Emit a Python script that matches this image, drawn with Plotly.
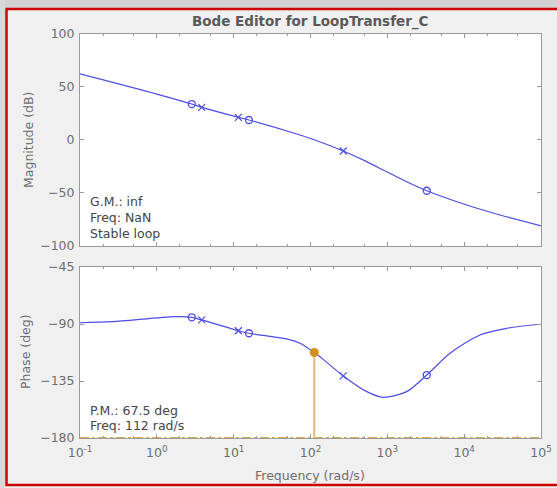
import plotly.graph_objects as go

# ---- data ----
mag_freq = [0.1, 1.0, 2.85, 3.84, 11.5, 15.8, 73, 112, 267, 540, 887, 1786, 3260, 10800, 29300, 100000]
mag_db = [62, 43, 33.6, 30.5, 21.1, 18.6, 4.5, 0, -10.6, -20.6, -28.5, -39.5, -48, -61.4, -70.8, -81]

ph_freq = [0.1, 0.26, 1.72, 2.85, 3.84, 11.5, 15.8, 51.4, 73, 112, 133, 267, 540, 887, 1786, 3260, 6550, 16070, 35800, 100000]
ph_deg = [-89.0, -88.2, -84.2, -84.7, -86.8, -95.3, -97.3, -102.1, -105.2, -112.5, -115.8, -131.0, -143.4, -147.9, -143.4, -130.3, -113.1, -98.7, -93.4, -90.2]

zero_freq = [2.85, 15.8, 3260]
zero_mag = [33.6, 18.6, -48]
zero_ph = [-84.7, -97.3, -130.3]

pole_freq = [3.84, 11.5, 267]
pole_mag = [30.5, 21.1, -10.6]
pole_ph = [-86.8, -95.3, -131.0]

pm_freq = 112
pm_phase = -112.5
ph_floor = -180

x_tickvals = [0.1, 1, 10, 100, 1000, 10000, 100000]
x_ticktext = ["10<sup>-1</sup>", "10<sup>0</sup>", "10<sup>1</sup>", "10<sup>2</sup>",
              "10<sup>3</sup>", "10<sup>4</sup>", "10<sup>5</sup>"]
mag_ticks = [-100, -50, 0, 50, 100]
ph_ticks = [-180, -135, -90, -45]

W, H = 557, 488
BLUE = "#4c4ce6"
ORANGE = "#d4901c"
ORANGE_L = "#e8b86a"
AXC = "#9a9a9a"
TXT = "#6e6e6e"
FONT = "DejaVu Sans"

def px(x):
    return x / W

def py(y):
    return 1 - y / H

fig = go.Figure()

# magnitude
fig.add_trace(go.Scatter(x=mag_freq, y=mag_db, mode="lines", line=dict(color=BLUE, width=1.2, shape="spline", smoothing=0.8),
                         xaxis="x", yaxis="y", hoverinfo="skip"))
fig.add_trace(go.Scatter(x=zero_freq, y=zero_mag, mode="markers",
                         marker=dict(symbol="circle-open", size=7, color=BLUE, line=dict(width=1.3)), xaxis="x", yaxis="y"))
fig.add_trace(go.Scatter(x=pole_freq, y=pole_mag, mode="markers",
                         marker=dict(symbol="x-thin-open", size=7, color=BLUE, line=dict(width=1.2, color=BLUE)), xaxis="x", yaxis="y"))

# phase
fig.add_trace(go.Scatter(x=[0.1, 100000], y=[ph_floor, ph_floor], mode="lines",
                         line=dict(color=ORANGE, width=1.5, dash="dashdot"), xaxis="x2", yaxis="y2"))
fig.add_trace(go.Scatter(x=[pm_freq, pm_freq], y=[ph_floor, pm_phase], mode="lines",
                         line=dict(color=ORANGE_L, width=2), xaxis="x2", yaxis="y2"))
fig.add_trace(go.Scatter(x=ph_freq, y=ph_deg, mode="lines", line=dict(color=BLUE, width=1.2, shape="spline", smoothing=0.8),
                         xaxis="x2", yaxis="y2"))
fig.add_trace(go.Scatter(x=zero_freq, y=zero_ph, mode="markers",
                         marker=dict(symbol="circle-open", size=7, color=BLUE, line=dict(width=1.3)), xaxis="x2", yaxis="y2"))
fig.add_trace(go.Scatter(x=pole_freq, y=pole_ph, mode="markers",
                         marker=dict(symbol="x-thin-open", size=7, color=BLUE, line=dict(width=1.2, color=BLUE)), xaxis="x2", yaxis="y2"))
fig.add_trace(go.Scatter(x=[pm_freq], y=[pm_phase], mode="markers",
                         marker=dict(symbol="circle", size=9, color=ORANGE), xaxis="x2", yaxis="y2"))

xdom = [px(80), px(541)]
common_x = dict(type="log", range=[-1, 5], domain=xdom, showline=True, mirror="ticks", linecolor=AXC, linewidth=1,
                ticks="inside", ticklen=4, tickcolor=AXC, tickvals=x_tickvals, showgrid=False, zeroline=False,
                automargin=False, minor=dict(ticks="inside", ticklen=2, tickcolor=AXC, showgrid=False))
common_y = dict(showline=True, mirror="ticks", linecolor=AXC, linewidth=1, ticks="inside", ticklen=4, tickcolor=AXC,
                showgrid=False, zeroline=False, automargin=False, ticklabelstandoff=2,
                tickfont=dict(family=FONT, size=12.5, color=TXT))

fig.update_layout(
    template="none",
    width=W, height=H, margin=dict(l=0, r=0, t=0, b=0, pad=0, autoexpand=False), showlegend=False,
    paper_bgcolor="#f0f0f0", plot_bgcolor="white", font=dict(family=FONT, size=12, color=TXT),
    xaxis=dict(common_x, anchor="y", showticklabels=False),
    xaxis2=dict(common_x, anchor="y2", ticktext=x_ticktext, ticklabelstandoff=3,
                tickfont=dict(family=FONT, size=12.5, color=TXT), matches="x"),
    yaxis=dict(common_y, domain=[py(246), py(33.5)], range=[-100, 100], tickvals=mag_ticks, anchor="x"),
    yaxis2=dict(common_y, domain=[py(438), py(267)], range=[-180, -45], tickvals=ph_ticks, anchor="x2"),
)

ann = [
    dict(text="<b>Bode Editor for LoopTransfer_C</b>", x=px(310.5), y=py(22), font=dict(size=13.5, color="#5a5a5a")),
    dict(text="Magnitude (dB)", x=px(28), y=py(140), textangle=-90, font=dict(size=12.5, color=TXT)),
    dict(text="Phase (deg)", x=px(25), y=py(352), textangle=-90, font=dict(size=12.5, color=TXT)),
    dict(text="Frequency (rad/s)", x=px(310.5), y=py(475), font=dict(size=12.5, color=TXT)),
]
for a in ann:
    a.update(xref="paper", yref="paper", showarrow=False, xanchor="center", yanchor="middle")
    a["font"]["family"] = FONT
    fig.add_annotation(**a)

for txt, yy in [("G.M.: inf", 201), ("Freq: NaN", 217), ("Stable loop", 233),
                ("P.M.: 67.5 deg", 410), ("Freq: 112 rad/s", 425)]:
    fig.add_annotation(text=txt, x=px(88), y=py(yy), xref="paper", yref="paper", showarrow=False,
                       xanchor="left", yanchor="middle", font=dict(family=FONT, size=12.5, color="#444444"))

shapes = [
    dict(type="rect", x0=0, x1=1, y0=py(8), y1=1, fillcolor="#d2d2d2", line=dict(width=0), layer="below"),
    dict(type="rect", x0=0, x1=px(5), y0=0, y1=1, fillcolor="#d8d8d8", line=dict(width=0), layer="below"),
    dict(type="rect", x0=px(6.5), x1=px(560), y0=py(485), y1=py(9), line=dict(color="#cc0000", width=2.5),
         fillcolor="rgba(0,0,0,0)", layer="above"),
]
for s in shapes:
    s.update(xref="paper", yref="paper")
    fig.add_shape(**s)

fig.write_html("out.html", config={"displayModeBar": False, "responsive": False},
               post_script="document.body.style.margin='0';document.body.style.padding='0';"
                           "document.body.style.overflow='hidden';document.documentElement.style.overflow='hidden';")
